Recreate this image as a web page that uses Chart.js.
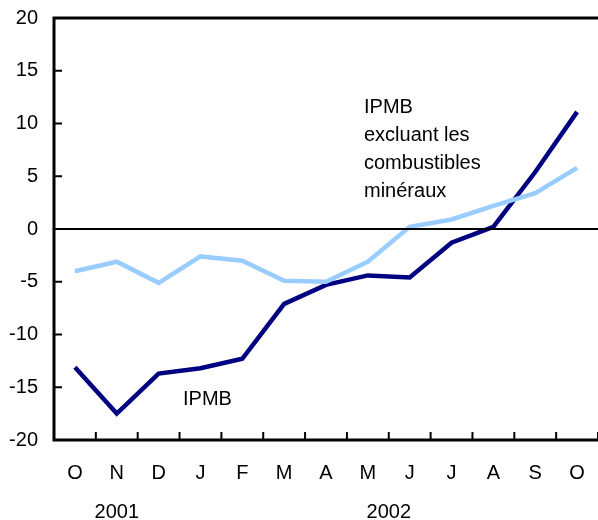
<!DOCTYPE html>
<html>
<head>
<meta charset="utf-8">
<script src="https://cdn.jsdelivr.net/npm/chart.js@4"></script>
<style>
  html, body { margin: 0; padding: 0; background: #fff; }
  #wrap { width: 598px; height: 520px; }
</style>
</head>
<body>
<div id="wrap"><canvas id="graphique"></canvas></div>
<script>
// Mois d'octobre 2001 à octobre 2002
const mois = ['O', 'N', 'D', 'J', 'F', 'M', 'A', 'M', 'J', 'J', 'A', 'S', 'O'];
const ipmb = [-13.1, -17.5, -13.7, -13.2, -12.3, -7.1, -5.3, -4.4, -4.6, -1.3, 0.2, 5.4, 11.1];
const ipmbSansCombustibles = [-4.0, -3.1, -5.1, -2.6, -3.0, -4.9, -5.0, -3.1, 0.2, 0.9, 2.2, 3.4, 5.8];
const annees = [{ texte: '2001', centre: 1 }, { texte: '2002', centre: 7.5 }];
const etiquetteHaut = ['IPMB', 'excluant les', 'combustibles', 'minéraux'];

const police = '20px "Liberation Sans", Arial, sans-serif';

// Axes, repères et textes dessinés à la main
const decor = {
    id: 'decor',
    afterDatasetsDraw(chart) {
        const { ctx, chartArea: a, scales: { x, y } } = chart;
        ctx.save();
        ctx.strokeStyle = '#000';
        ctx.lineCap = 'butt';

        // ligne du zéro
        ctx.lineWidth = 2;
        ctx.beginPath();
        ctx.moveTo(a.left, y.getPixelForValue(0));
        ctx.lineTo(a.right, y.getPixelForValue(0));
        ctx.stroke();

        // cadre gauche, haut et bas
        ctx.lineWidth = 3;
        ctx.beginPath();
        ctx.moveTo(a.right + 2, a.top);
        ctx.lineTo(a.left, a.top);
        ctx.lineTo(a.left, a.bottom);
        ctx.lineTo(a.right + 2, a.bottom);
        ctx.stroke();

        // repères de l'axe y (vers l'intérieur)
        ctx.lineWidth = 2;
        for (let v = -15; v <= 15; v += 5) {
            const py = y.getPixelForValue(v);
            ctx.beginPath();
            ctx.moveTo(a.left, py);
            ctx.lineTo(a.left + 8, py);
            ctx.stroke();
        }
        // repères de l'axe x entre les mois
        const pas = x.getPixelForValue(1) - x.getPixelForValue(0);
        for (let i = 1; i <= mois.length; i++) {
            const px = x.getPixelForValue(i) - pas / 2;
            ctx.beginPath();
            ctx.moveTo(px, a.bottom);
            ctx.lineTo(px, a.bottom - 8);
            ctx.stroke();
        }

        ctx.fillStyle = '#000';
        ctx.font = police;
        ctx.textBaseline = 'alphabetic';

        // années
        ctx.textAlign = 'center';
        annees.forEach(an => {
            const px = x.getPixelForValue(Math.floor(an.centre)) + (an.centre % 1) * pas;
            ctx.fillText(an.texte, px, 518);
        });

        // étiquettes des séries
        ctx.textAlign = 'left';
        etiquetteHaut.forEach((ligne, i) => {
            ctx.fillText(ligne, 364, 113 + i * 28);
        });
        ctx.fillText('IPMB', 183, 405);
        ctx.restore();
    }
};

const ctx = document.getElementById('graphique').getContext('2d');
new Chart(ctx, {
    type: 'line',
    data: {
        labels: mois,
        datasets: [
            {
                label: 'IPMB excluant les combustibles minéraux',
                data: ipmbSansCombustibles,
                borderColor: '#99ccff',
                borderWidth: 4.5,
                pointRadius: 0,
                tension: 0
            },
            {
                label: 'IPMB',
                data: ipmb,
                borderColor: '#000080',
                borderWidth: 4.5,
                pointRadius: 0,
                tension: 0
            }
        ]
    },
    options: {
        responsive: true,
        maintainAspectRatio: false,
        animation: false,
        layout: { padding: { top: 18, right: -5, left: 0, bottom: 0 } },
        plugins: { legend: { display: false }, tooltip: { enabled: false } },
        scales: {
            x: {
                offset: true,
                grid: { display: false, drawTicks: false },
                border: { display: false },
                ticks: { color: '#000', font: { family: '"Liberation Sans", Arial, sans-serif', size: 20 }, padding: 21, maxRotation: 0, autoSkip: false },
                afterFit(s) { s.height = 80; s.paddingLeft = 0; s.paddingRight = 0; }
            },
            y: {
                min: -20,
                max: 20,
                grid: { display: false, drawTicks: false },
                border: { display: false },
                ticks: { stepSize: 5, color: '#000', font: { family: '"Liberation Sans", Arial, sans-serif', size: 20 }, padding: 16 },
                afterFit(s) { s.width = 54; s.paddingTop = 0; s.paddingBottom = 0; }
            }
        }
    },
    plugins: [decor]
});
</script>
</body>
</html>
